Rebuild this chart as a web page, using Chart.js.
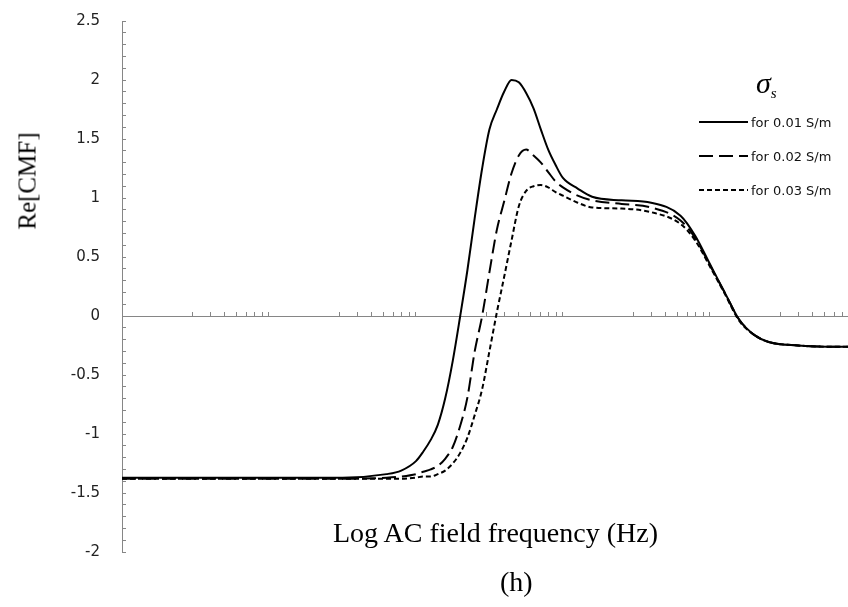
<!DOCTYPE html>
<html>
<head>
<meta charset="utf-8">
<title>Re[CMF] vs frequency</title>
<script src="https://cdn.jsdelivr.net/npm/chart.js@4.4.0/dist/chart.umd.min.js"></script>
<style>
  body { margin: 0; background: #fff; }
  #wrap { position: relative; width: 848px; height: 607px; }
  #wrap canvas { position: absolute; left: 0; top: 0; }
  .serif { position: absolute; font-family: "Liberation Serif", "Times New Roman", serif; color: #000; white-space: nowrap; line-height: 1; }
  #ytitle { font-size: 25px; left: 27px; top: 181px; transform: translate(-50%, -50%) rotate(-90deg); }
  #xtitle { font-size: 28px; left: 333px; top: 533px; transform: translateY(-50%); }
  #caption { font-size: 28px; left: 500px; top: 582px; transform: translateY(-50%); }
  #sigma { left: 756px; top: 68px; font-size: 30px; font-style: italic; }
  #sigma sub { font-size: 15px; vertical-align: -5px; }
  #legend { position: absolute; left: 699px; top: 105px; margin: 0; padding: 0; list-style: none;
            font-family: "DejaVu Sans", sans-serif; font-size: 13px; color: #111; }
  #legend li { height: 34px; display: flex; align-items: center; }
  #legend svg { margin-right: 3px; }
</style>
</head>
<body>
<div id="wrap">
  <canvas id="cmfChart"></canvas>
  <div id="ytitle" class="serif">Re[CMF]</div>
  <div id="xtitle" class="serif">Log AC field frequency (Hz)</div>
  <div id="caption" class="serif">(h)</div>
  <div id="sigma" class="serif">σ<sub>s</sub></div>
  <ul id="legend"></ul>
</div>

<script>
// AC field frequency (Hz), shared by all three curves
const frequencies = [
  1.0e3, 1.0e4, 3.16e4, 6.31e4, 7.94e4,
  1.0e5, 1.12e5, 1.26e5, 1.41e5, 1.58e5, 1.78e5, 2.0e5, 2.24e5, 2.51e5, 2.82e5,
  3.16e5, 3.55e5, 3.98e5, 4.47e5, 5.01e5, 5.62e5, 6.31e5, 7.08e5, 7.94e5, 8.91e5,
  1.0e6, 1.26e6, 1.58e6, 2.51e6, 3.98e6, 6.31e6, 7.94e6,
  1.0e7, 1.26e7, 1.58e7, 2.0e7, 2.51e7, 3.98e7, 6.31e7, 8.7e7
];

// Re[CMF] for medium conductivity 0.01 S/m
const cmfSigma001 = [
  -1.37, -1.37, -1.37, -1.34, -1.31,
  -1.23, -1.15, -1.05, -0.92, -0.70, -0.38, 0.0, 0.39, 0.83, 1.25,
  1.58, 1.75, 1.90, 2.00, 1.98, 1.89, 1.76, 1.58, 1.41, 1.28,
  1.17, 1.08, 1.01, 0.98, 0.96, 0.85, 0.68,
  0.44, 0.20, -0.03, -0.16, -0.22, -0.25, -0.26, -0.26
];

// Re[CMF] for medium conductivity 0.02 S/m
const cmfSigma002 = [
  -1.38, -1.38, -1.38, -1.37, -1.36,
  -1.34, -1.32, -1.30, -1.27, -1.21, -1.11, -0.93, -0.69, -0.30, 0.0,
  0.37, 0.73, 0.97, 1.21, 1.36, 1.41, 1.36, 1.30, 1.22, 1.14,
  1.09, 1.02, 0.98, 0.95, 0.92, 0.81, 0.66,
  0.43, 0.20, -0.03, -0.16, -0.22, -0.25, -0.26, -0.26
];

// Re[CMF] for medium conductivity 0.03 S/m
const cmfSigma003 = [
  -1.38, -1.38, -1.38, -1.38, -1.38,
  -1.37, -1.36, -1.36, -1.34, -1.31, -1.25, -1.16, -1.03, -0.84, -0.62,
  -0.30, 0.03, 0.33, 0.64, 0.93, 1.06, 1.10, 1.11, 1.09, 1.05,
  1.02, 0.96, 0.92, 0.91, 0.88, 0.78, 0.64,
  0.42, 0.19, -0.04, -0.16, -0.22, -0.25, -0.26, -0.26
];

const seriesLabels = ["for 0.01 S/m", "for 0.02 S/m", "for 0.03 S/m"];
const seriesDashes = [[], [14, 6], [5, 3]];

function toPoints(values) {
  return frequencies.map((f, i) => ({ x: f, y: values[i] }));
}

// --------- Legend (HTML, inside the plot) ---------

function generateLegend(datasets) {
  const legend = document.getElementById("legend");
  legend.innerHTML = "";
  datasets.forEach(ds => {
    const li = document.createElement("li");
    const dash = ds.borderDash.length ? ds.borderDash.join(" ") : "none";
    li.innerHTML =
      `<svg width="49" height="4"><line x1="0" y1="2" x2="49" y2="2" stroke="#000" stroke-width="2" stroke-dasharray="${dash}"/></svg>` +
      `<span>${ds.label}</span>`;
    legend.appendChild(li);
  });
}

// --------- Chart ---------

const datasets = [cmfSigma001, cmfSigma002, cmfSigma003].map((vals, i) => ({
  label: seriesLabels[i],
  data: toPoints(vals),
  borderColor: "#000",
  borderWidth: 2,
  borderDash: seriesDashes[i],
  pointRadius: 0,
  fill: false,
  cubicInterpolationMode: "monotone"
}));

const axisGrey = "#868686";

new Chart(document.getElementById("cmfChart"), {
  type: "line",
  data: { datasets },
  options: {
    responsive: true,
    maintainAspectRatio: false,
    animation: false,
    layout: { padding: { top: 21, right: 0, bottom: 55, left: 0 } },
    plugins: {
      legend: { display: false },
      tooltip: { enabled: false }
    },
    scales: {
      x: {
        type: "logarithmic",
        position: { y: 0 },
        min: 1e3,
        max: 8.7e7,
        ticks: { display: false },
        grid: { drawOnChartArea: false, tickLength: -5, tickColor: axisGrey, color: axisGrey },
        border: { display: true, color: axisGrey },
        afterBuildTicks: (scale) => {
          // the original axis shows no minor tick at 2 x 10^n
          scale.ticks = scale.ticks.filter(t => {
            const lead = Math.round(t.value / Math.pow(10, Math.floor(Math.log10(t.value) + 1e-9)));
            return lead !== 2;
          });
        }
      },
      y: {
        type: "linear",
        position: "left",
        min: -2,
        max: 2.5,
        ticks: {
          stepSize: 0.1,
          autoSkip: false,
          padding: 26,
          color: "#222",
          font: { family: "DejaVu Sans", size: 15 },
          callback: (v) => Math.abs(v * 2 - Math.round(v * 2)) < 1e-6 ? String(Math.round(v * 10) / 10) : ""
        },
        grid: { drawOnChartArea: false, tickLength: -4, tickColor: axisGrey, color: axisGrey },
        border: { display: true, color: axisGrey },
        afterFit: (scale) => {
          scale.width = 122;
          // label padding should not push the plot down from the top edge
          scale.paddingTop = 0;
          scale.paddingBottom = 0;
        }
      }
    }
  }
});

generateLegend(datasets);
</script>
</body>
</html>
